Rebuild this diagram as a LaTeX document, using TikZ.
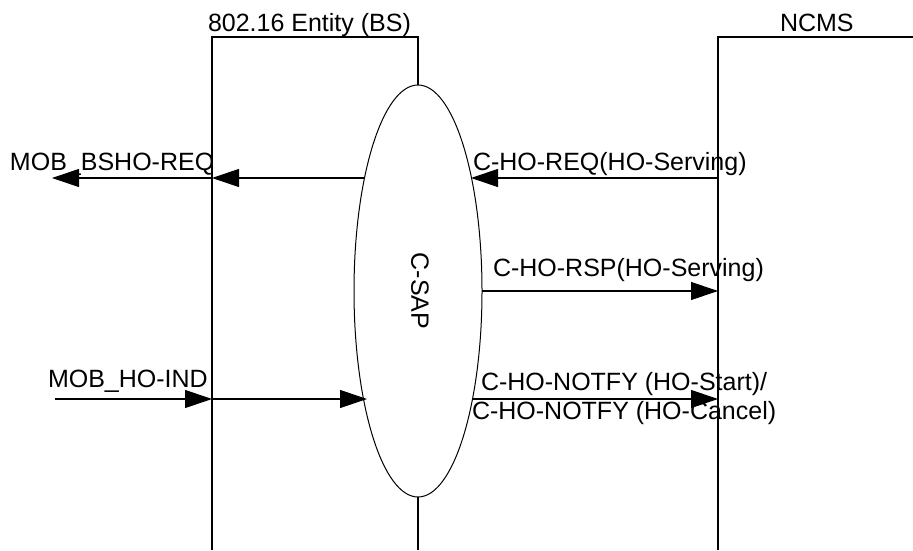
\documentclass[tikz,border=0pt]{standalone}
\usepackage{fontspec}
\setmainfont{Liberation Sans}
\usetikzlibrary{arrows.meta,shapes.geometric}
\begin{document}
\begin{tikzpicture}[x=0.5pt,y=-0.5pt,
  line/.style={draw=black,line width=0.55pt},
  msg/.style={line,-{Triangle[length=13.5pt,width=9pt]}},
  lbl/.style={anchor=base west,inner sep=0pt,outer sep=0pt,font=\fontsize{12.5}{14}\selectfont},
  ]
\useasboundingbox (0,0) rectangle (913,550);
% SAP ellipse
\node[ellipse,draw=black,line width=0.5pt,minimum width=64pt,minimum height=206pt,inner sep=0pt,outer sep=0pt] (csap) at (418,291) {};
\node[rotate=-90,inner sep=0pt,font=\fontsize{12.5}{14}\selectfont] (csaplbl) at (420,291) {C-SAP};
% entity frames
\coordinate (bsTL) at (212,37);
\coordinate (bsTR) at (418,37);
\coordinate (bsBL) at (212,550);
\coordinate (bsBot) at (418,550);
\coordinate (ncTL) at (718,37);
\coordinate (ncTR) at (913,37);
\coordinate (ncBL) at (718,550);
\draw[line] (bsBL) -- (bsTL) -- (bsTR) -- (csap.north);
\draw[line] (csap.south) -- (bsBot);
\draw[line] (ncBL) -- (ncTL) -- (ncTR);
\node[lbl] (bsname) at (208,32) {802.16 Entity (BS)};
\node[lbl] (ncname) at (780,32) {NCMS};
% message points
\coordinate (e1L) at (365,178);
\coordinate (bs1) at (212,178);
\coordinate (out1) at (52,178);
\coordinate (nc2) at (718,178);
\coordinate (e2R) at (471,178);
\coordinate (nc3) at (718,291);
\coordinate (e4R) at (472,399);
\coordinate (nc4) at (718,399);
\coordinate (in5) at (55,399);
\coordinate (bs5) at (212,399);
\coordinate (e5L) at (367,399);
% messages
\draw[msg] (e1L) -- (bs1);
\draw[msg] (bs1) -- (out1);
\draw[msg] (nc2) -- (e2R);
\draw[msg] (csap.east) -- (nc3);
\draw[msg] (e4R) -- (nc4);
\draw[msg] (in5) -- (bs5);
\draw[msg] (bs5) -- (e5L);
% labels
\node[lbl] (l1) at (10,171) {MOB\_BSHO-REQ};
\node[lbl] (l2) at (473,171) {C-HO-REQ(HO-Serving)};
\node[lbl] (l3) at (493,277) {C-HO-RSP(HO-Serving)};
\node[lbl] (l4a) at (481,390) {C-HO-NOTFY (HO-Start)/};
\node[lbl] (l4b) at (472,419) {C-HO-NOTFY (HO-Cancel)};
\node[lbl] (l5) at (48,387) {MOB\_HO-IND};
\end{tikzpicture}
\end{document}
